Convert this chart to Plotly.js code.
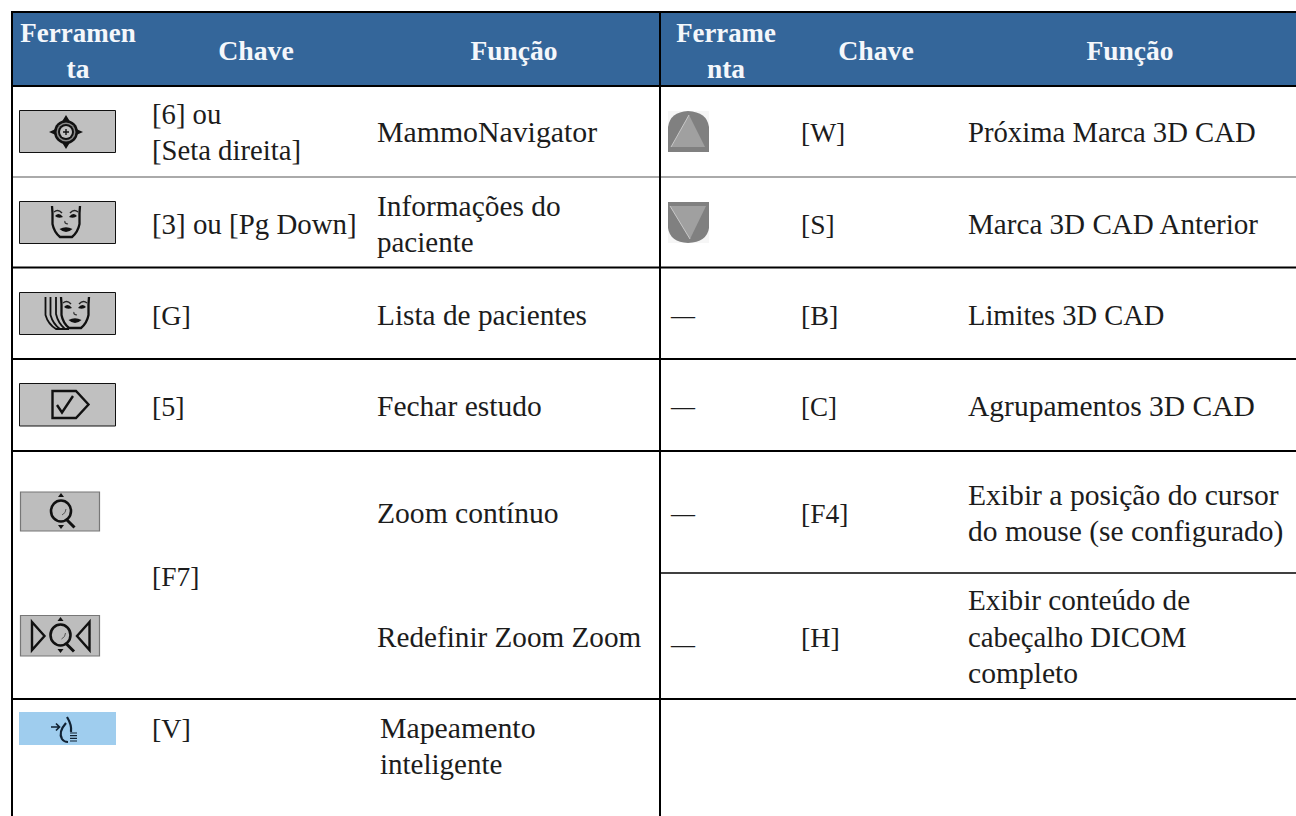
<!DOCTYPE html>
<html><head><meta charset="utf-8">
<script src="https://cdn.plot.ly/plotly-3.0.1.min.js"></script>
<style>html,body{margin:0;padding:0;background:#fff}#c{width:1296px;height:816px}</style>
</head><body><div id="c"></div>
<script>
// ---- table contents ----
const headTool1 = ["Ferramen","ta"];
const headTool2 = ["Ferrame","nta"];
const headKey = "Chave";
const headFunc = "Função";
const keysLeft = ["[6] ou","[Seta direita]","[3] ou [Pg Down]","[G]","[5]","[F7]","[V]"];
const funcLeft = ["MammoNavigator","Informações do","paciente","Lista de pacientes","Fechar estudo","Zoom contínuo","Redefinir Zoom Zoom"];
const funcLeftLast = ["Mapeamento","inteligente"];
const dashes = ["—","—","—","—"];
const keysRight = ["[W]","[S]","[B]","[C]","[F4]","[H]"];
const funcRight = ["Próxima Marca 3D CAD","Marca 3D CAD Anterior","Limites 3D CAD","Agrupamentos 3D CAD","Exibir a posição do cursor","do mouse (se configurado)","Exibir conteúdo de","cabeçalho DICOM","completo"];

// ---- layout rows (pixel scale of the axes) ----
const yKeysLeft = [117,153,227,318,409,579,731];
const yFuncLeft = [135,209,245,318,409,516,640];
const yFuncLeftLast = [731,767];
const yDashes = [317,408,515,646];
const yKeysRight = [135,227,318,409,516,640];
const yFuncRight = [135,227,318,409,498,534,603,640,676];
// ---- text fitting ----
const szKeysLeft = [28.7,28.7,28.9,28,28,27.5,28];
const szFuncLeft = [29.8,29.4,29,29.3,29.5,29.6,29.2];
const szFuncLeftLast = [29.8,29];
const szKeysRight = [27.5,27.5,28,27,27.5,28];
const szFuncRight = [28.7,29.1,28.5,29.5,29.6,29.5,29.2,28.8,29.6];

const FONT = "Liberation Serif";
const INK = "#1c1c1c";
function col(text, ys, x, pos, size, color, weight){
  return {type:"scatter",mode:"text",x:text.map(()=>x),y:ys,text:text,textposition:pos,cliponaxis:false,
    hoverinfo:"skip",showlegend:false,textfont:{family:FONT,size:size,color:color||INK,weight:weight||"normal"}};
}
const W="#f4f7fb";
const traces = [
  col(keysLeft,yKeysLeft,152,"middle right",szKeysLeft),
  col(funcLeft,yFuncLeft,377,"middle right",szFuncLeft),
  col(funcLeftLast,yFuncLeftLast,380,"middle right",szFuncLeftLast),
  col(dashes,yDashes,671,"middle right",24),
  col(keysRight,yKeysRight,801,"middle right",szKeysRight),
  col(funcRight,yFuncRight,968,"middle right",szFuncRight),
  col(headTool1,[35,71],78,"middle center",[27,27.5],W,"bold"),
  col(headTool2,[35,71],726,"middle center",[26.8,27.5],W,"bold"),
  col([headKey],[53],256,"middle center",27.8,W,"bold"),
  col([headFunc],[53],514,"middle center",27.5,W,"bold"),
  col([headKey],[53],876,"middle center",27.8,W,"bold"),
  col([headFunc],[53],1130,"middle center",27.5,W,"bold")
];

// ---- rules ----
const shapes=[];
const NONE="rgba(0,0,0,0)";
const rect=(x0,y0,x1,y1,fill,line,w,layer)=>shapes.push({type:"rect",xref:"x",yref:"y",x0,y0,x1,y1,fillcolor:fill,line:{color:line||fill,width:line?(w||1):0},layer:layer||"below"});
const hl=(x0,x1,y,c,w)=>shapes.push({type:"line",xref:"x",yref:"y",x0,x1,y0:y,y1:y,line:{color:c,width:w},layer:"below"});
const vl=(x,y0,y1,c,w)=>shapes.push({type:"line",xref:"x",yref:"y",x0:x,x1:x,y0,y1,line:{color:c,width:w},layer:"below"});
const path=(d,fill,c,w)=>shapes.push({type:"path",xref:"x",yref:"y",path:d,fillcolor:fill||NONE,line:{color:c||NONE,width:c?(w||1):0},layer:"above"});
const circ=(cx,cy,rx,ry,fill,c,w)=>shapes.push({type:"circle",xref:"x",yref:"y",x0:cx-rx,x1:cx+rx,y0:cy-ry,y1:cy+ry,fillcolor:fill||NONE,line:{color:c||NONE,width:c?(w||1):0},layer:"above"});

rect(12,12,1296,86,"#34669A");
hl(11,1296,12,"#000",2);
hl(12,1296,86,"#000",2);
hl(12,1296,177,"#aaaaaa",2);
hl(12,1296,267.5,"#000",2);
hl(12,1296,359,"#000",2);
hl(12,1296,451,"#000",2);
hl(660,1296,573,"#000",1.5);
hl(12,1296,699,"#000",2);
vl(12,11,816,"#000",2);
vl(660,11,816,"#000",2);

// ---- tool icons ----
const G="#c0c0c0";
// compass
rect(19.5,110.5,115.5,152.5,G,"#111",1,"above");
path("M49,132 L58,128 L66,115 L74,128 L83,132 L74,136 L66,149 L58,136 Z","#111");
circ(66,132,12,12,"#111");
circ(66,132,9.5,9.5,"#8a8a8a");
circ(66,132,8,8,"#111");
circ(66,132,6,6,G);
path("M66,129 V135 M63,132 H69",null,"#111",1.4);
// face
function face(dx,dy){
  const X=v=>v+dx, Y=v=>v+dy;
  path(`M${X(52)},${Y(206)} L${X(52.5)},${Y(213)} L${X(52.5)},${Y(224)} Q${X(54)},${Y(232)} ${X(60)},${Y(237)} L${X(72)},${Y(237)} Q${X(78)},${Y(232)} ${X(79.5)},${Y(224)} L${X(79.5)},${Y(213)} L${X(80)},${Y(206)}`,null,"#111",2.3);
  path(`M${X(54)},${Y(212)} Q${X(58)},${Y(208.5)} ${X(62)},${Y(213)} M${X(70)},${Y(213)} Q${X(74)},${Y(208.5)} ${X(78)},${Y(212)}`,null,"#222",1.4);
  path(`M${X(55)},${Y(216)} Q${X(59)},${Y(211.5)} ${X(63)},${Y(217)} Q${X(58)},${Y(219)} ${X(55)},${Y(216)} Z M${X(69)},${Y(217)} Q${X(73)},${Y(211.5)} ${X(77)},${Y(216)} Q${X(74)},${Y(219)} ${X(69)},${Y(217)} Z`,"#111");
  path(`M${X(65)},${Y(221)} Q${X(64)},${Y(223.5)} ${X(68)},${Y(224)}`,null,"#333",1.2);
  path(`M${X(59.5)},${Y(229)} Q${X(66)},${Y(225.5)} ${X(72.5)},${Y(229)} Q${X(66)},${Y(235)} ${X(59.5)},${Y(229)} Z`,"#111");
}
rect(19.5,201.5,115.5,243.5,G,"#111",1,"above");
face(0,0);
// patient list
rect(19.5,292.5,115.5,334.5,G,"#111",1,"above");
path("M45.5,297 V315 Q48,324 56,329 H69 M50.5,297 V315 Q53,324 60,329 M56,297 V314 Q58,323 65,329",null,"#111",1.8);
face(9,91);
// close study
rect(19.5,383.5,115.5,426,G,"#111",1,"above");
path("M52.5,391 H76 L88.5,404.5 L76,418 H52.5 Z",null,"#111",2.4);
path("M57,405 L62,412.5 L73,396",null,"#111",2.4);
// magnifiers
function mag(cx,cy){
  circ(cx,cy,10,10.5,"#bdbdbd","#111",2.6);
  path(`M${cx+6},${cy+9} L${cx+13.5},${cy+16.5}`,null,"#111",3);
  path(`M${cx+1},${cy+4} Q${cx+5},${cy+2} ${cx+5},${cy-2}`,null,"#555",1);
  path(`M${cx},${cy-18} L${cx+3},${cy-14} L${cx-3},${cy-14} Z M${cx},${cy+18} L${cx+3},${cy+14} L${cx-3},${cy+14} Z`,"#111");
}
rect(20.5,492,99.5,531,"#bdbdbd","#777",1.2,"above");
mag(61,511);
rect(20.5,615.5,99.5,656,"#bdbdbd","#777",1.2,"above");
mag(60.5,635);
path("M32,622 L44.5,636 L32,650 Z",null,"#111",2.4);
path("M89.5,622 L77,636 L89.5,650 Z",null,"#111",2.4);
// smart mapping
rect(19,712,116,745,"#9FCDEE");
path("M51,727 H59 M56,723.5 L59.5,727 L56,730.5",null,"#123",1.7);
path("M67,717 Q72,725 71,732 M66,723 Q58,732 62,739 Q64,742 68,742",null,"#123",2.2);
path("M70,733 H77 M70,735.7 H77 M70,738.4 H77 M70,741 H77",null,"#123",1.2);
// next / previous CAD mark
rect(668,111,709,152,"#f6f6f6");
path("M668,152 L668,127 Q670,112 688,111 Q707,112 709,127 L709,152 Z","#808080");
path("M689,115 L671,147 L705,147 Z","#a0a0a0");
path("M689,115 L671,147",null,"#c8c8c8",1);
rect(668,202,709,243,"#f6f6f6");
path("M668,202 L668,228 Q670,242 688,243 Q707,242 709,228 L709,202 Z","#808080");
path("M670,206 L706,206 L690,239 Z","#a0a0a0");
path("M670,206 L690,239",null,"#c8c8c8",1);

const layout={width:1296,height:816,autosize:false,margin:{l:0,r:0,t:0,b:0,pad:0},paper_bgcolor:"#fff",plot_bgcolor:"#fff",showlegend:false,
  xaxis:{range:[0,1296],visible:false,fixedrange:true},yaxis:{range:[816,0],visible:false,fixedrange:true},shapes};
Plotly.newPlot("c",traces,layout,{displayModeBar:false,staticPlot:true});
</script></body></html>
